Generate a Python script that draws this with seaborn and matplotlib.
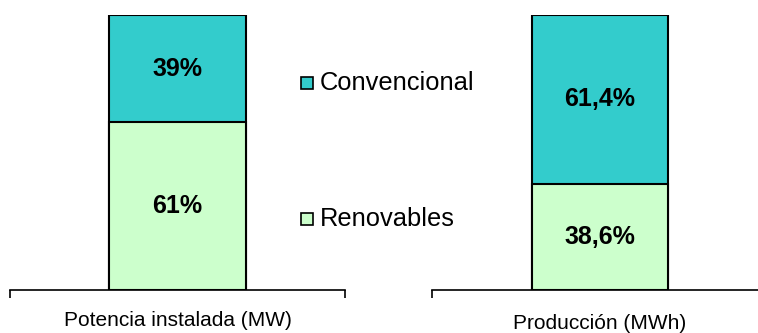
import matplotlib
matplotlib.use("Agg")
import matplotlib.pyplot as plt
import seaborn as sns
import pandas as pd

categories = ["Potencia instalada (MW)", "Producción (MWh)"]
renovables = [61.0, 38.6]
convencional = [39.0, 61.4]
ren_labels = ["61%", "38,6%"]
con_labels = ["39%", "61,4%"]
series_names = ["Convencional", "Renovables"]

col_con = "#33CCCC"
col_ren = "#CCFFCC"

sns.set_theme(style="white")
plt.rcParams["font.family"] = ["Liberation Sans", "DejaVu Sans"]
plt.rcParams["text.color"] = "black"
plt.rcParams["xtick.color"] = "black"

W, H = 758, 333
fig = plt.figure(figsize=(W / 100, H / 100), dpi=100)

axes_px = [(10, 335), (432, 336)]
label_pads = [15, 17]
for i, (x0, w) in enumerate(axes_px):
    ax = fig.add_axes([x0 / W, (H - 290) / H, w / W, 275 / H])
    df = pd.DataFrame({"cat": [categories[i]],
                       "total": [renovables[i] + convencional[i]],
                       "ren": [renovables[i]]})
    sns.barplot(data=df, x="cat", y="total", color=col_con, saturation=1,
                width=0.406, edgecolor="black", linewidth=1.5, ax=ax)
    sns.barplot(data=df, x="cat", y="ren", color=col_ren, saturation=1,
                width=0.406, edgecolor="black", linewidth=1.5, ax=ax)
    ax.set_xlim(-0.5, 0.5)
    ax.set_ylim(0, 100)
    for s in ["top", "right", "left"]:
        ax.spines[s].set_visible(False)
    ax.spines["bottom"].set_color("black")
    ax.spines["bottom"].set_linewidth(1.2)
    ax.set_yticks([])
    ax.set_ylabel("")
    ax.set_xlabel("")
    ax.set_xticks([0])
    ax.set_xticklabels([categories[i]], fontsize=15, color="black")
    ax.tick_params(axis="x", which="major", length=0, pad=label_pads[i])
    ax.set_xticks([-0.5, 0.5], minor=True)
    ax.tick_params(axis="x", which="minor", length=6, width=1.2,
                   color="black", direction="out", bottom=True)
    ren = renovables[i]
    ax.text(0, ren / 2, ren_labels[i], ha="center", va="center",
            fontsize=18, fontweight="bold", color="black")
    ax.text(0, ren + convencional[i] / 2, con_labels[i], ha="center",
            va="center", fontsize=18, fontweight="bold", color="black")

for name, col, ypx in [("Convencional", col_con, 83), ("Renovables", col_ren, 219)]:
    fig.patches.append(matplotlib.patches.Rectangle(
        (301 / W, (H - ypx - 6) / H), 12 / W, 12 / H,
        facecolor=col, edgecolor="black", linewidth=1.2,
        transform=fig.transFigure, figure=fig))
    fig.text(320 / W, (H - ypx) / H, name, fontsize=18.4, va="center",
             ha="left", color="black")

fig.savefig("out.png", dpi=100)
